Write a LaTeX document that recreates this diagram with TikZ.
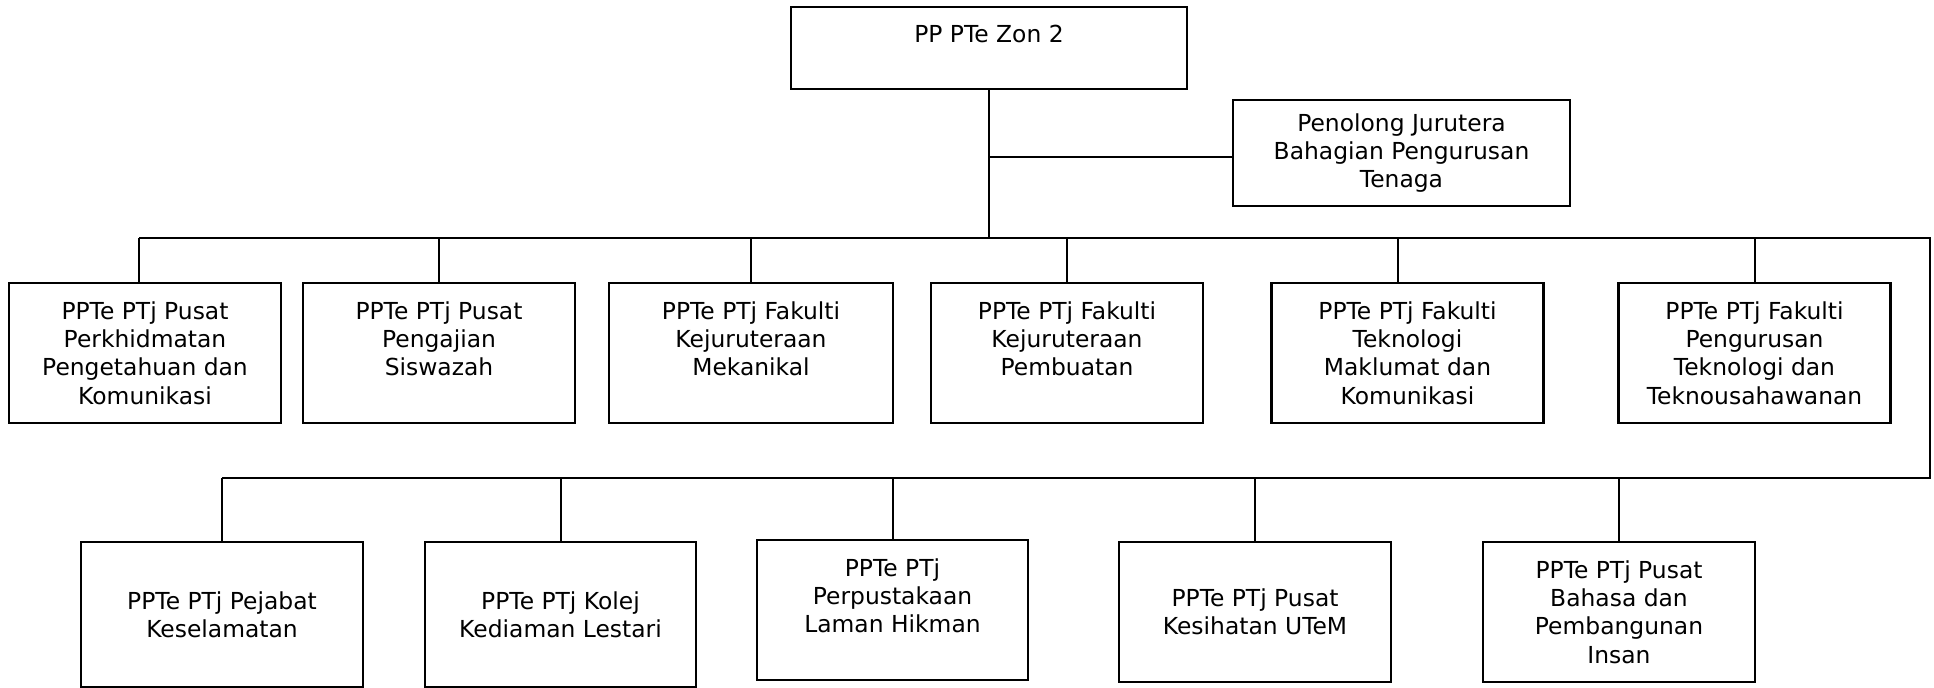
\documentclass[tikz,border=0pt]{standalone}
\usepackage{fontspec}
\setmainfont{DejaVu Sans}
\usetikzlibrary{positioning}

\begin{document}
\begin{tikzpicture}[x=0.5pt, y=-0.5pt,
 font=\fontsize{11.7}{14.1}\selectfont,
 box/.style={draw, line width=1.2pt, align=center, inner sep=2pt, minimum width=136pt},
 rowone/.style={box, minimum height=70pt},
 rowtwo/.style={box, minimum height=70pt},
 conn/.style={draw, line width=1pt}]
\useasboundingbox (0,0) rectangle (1934,688);
% head and staff
\node[box, minimum width=198pt, minimum height=41pt] (zon) at (989,48) {PP PTe Zon 2\\~};
\node[box, minimum width=168.5pt, minimum height=53pt] (pj) at (1401.5,153) {Penolong Jurutera\\ Bahagian Pengurusan\\ Tenaga};
% first row
\node[rowone] (pkk) at (145,353) {PPTe PTj Pusat\\ Perkhidmatan\\ Pengetahuan dan\\ Komunikasi};
\node[rowone] (pps) at (439,353) {PPTe PTj Pusat\\ Pengajian\\ Siswazah\\~};
\node[rowone, minimum width=142pt] (fkm) at (751,353) {PPTe PTj Fakulti\\ Kejuruteraan\\ Mekanikal\\~};
\node[rowone] (fkp) at (1067,353) {PPTe PTj Fakulti\\ Kejuruteraan\\ Pembuatan\\~};
\node[rowone] (ftm) at (1407.5,353) {PPTe PTj Fakulti\\ Teknologi\\ Maklumat dan\\ Komunikasi};
\node[rowone] (ftt) at (1754.5,353) {PPTe PTj Fakulti\\ Pengurusan\\ Teknologi dan\\ Teknousahawanan};
% second row
\node[rowtwo, minimum width=141pt, minimum height=72.5pt] (kes) at (222,614.5) {PPTe PTj Pejabat\\ Keselamatan};
\node[rowtwo, minimum width=135.5pt, minimum height=72.5pt] (kdl) at (560.5,614.5) {PPTe PTj Kolej\\ Kediaman Lestari};
\node[rowtwo, minimum width=135.5pt] (lib) at (892.5,610) {PPTe PTj\\ Perpustakaan\\ Laman Hikman\\~};
\node[rowtwo] (uk) at (1255,612) {PPTe PTj Pusat\\ Kesihatan UTeM};
\node[rowtwo] (bpi) at (1619,612) {PPTe PTj Pusat\\ Bahasa dan\\ Pembangunan\\ Insan};
% buses
\coordinate (end1) at (1930,238.5);
\coordinate (end2) at (1930,478);
\coordinate (pkkdrop) at ([xshift=-3pt]pkk.north);
\coordinate (ftmdrop) at ([xshift=-5pt]ftm.north);
\draw[conn] (zon.south) -- (zon.south |- end1);
\draw[conn] ([yshift=-2pt]pj.west) -- ([yshift=-2pt]pj.west -| zon.south);
\draw[conn] (pkkdrop |- end1) -- (end1) -- (end2) -- (end2 -| kes.north);
\foreach \n in {pkkdrop,pps.north,fkm.north,fkp.north,ftmdrop,ftt.north}
  \draw[conn] (\n) -- (\n |- end1);
\foreach \n in {kes,kdl,lib,uk,bpi}
  \draw[conn] (\n.north) -- (\n.north |- end2);
\end{tikzpicture}
\end{document}
